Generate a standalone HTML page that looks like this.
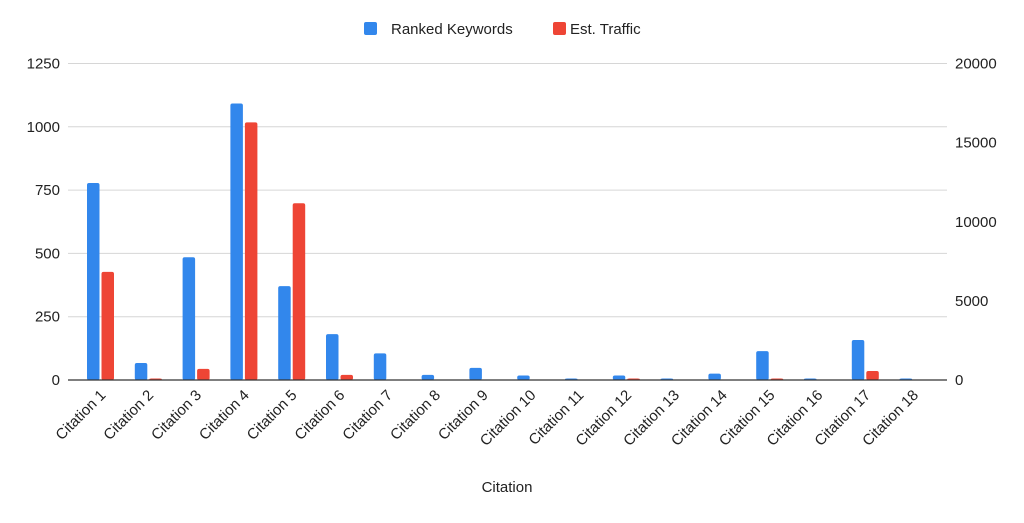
<!DOCTYPE html>
<html><head><meta charset="utf-8"><style>
body{margin:0;background:#fff;font-family:"Liberation Sans",Arial,sans-serif}
svg text{font-family:"Liberation Sans",Arial,sans-serif;fill:#222}
</style></head><body>
<svg id="chart" width="1024" height="518" viewBox="0 0 1024 518" xmlns="http://www.w3.org/2000/svg">
<g>
<rect x="364" y="22" width="13" height="13" rx="2" fill="#3287ec"/>
<text x="391" y="34" font-size="15">Ranked Keywords</text>
<rect x="553" y="22" width="13" height="13" rx="2" fill="#ee4535"/>
<text x="570" y="34" font-size="15">Est. Traffic</text>
</g>
<g id="grid"></g><g id="bars"></g><g id="labels"></g>
<line x1="68" y1="380" x2="947" y2="380" stroke="#333" stroke-width="1.3"/>
<text x="507" y="492" font-size="15" text-anchor="middle">Citation</text>
</svg>
<script>
const categories=["Citation 1","Citation 2","Citation 3","Citation 4","Citation 5","Citation 6","Citation 7","Citation 8","Citation 9","Citation 10","Citation 11","Citation 12","Citation 13","Citation 14","Citation 15","Citation 16","Citation 17","Citation 18"];
const rankedKeywords=[778,67,485,1092,371,181,105,20,48,18,3,18,2,25,114,2,158,2];
const estTraffic=[6830,30,700,16280,11170,320,0,0,0,0,0,30,0,0,30,0,570,0];
const leftTicks=[0,250,500,750,1000,1250];
const rightTicks=[0,5000,10000,15000,20000];
const NS="http://www.w3.org/2000/svg";
const y0=380,yTop=63.5,plotL=76.6,step=47.8,barW=12.5;
const yL=v=>y0-v/1250*(y0-yTop);
const yR=v=>y0-v/20000*(y0-yTop);
const xC=i=>plotL+step*(i+0.5);
function mk(tag,attrs,parent){const e=document.createElementNS(NS,tag);for(const k in attrs)e.setAttribute(k,attrs[k]);document.getElementById(parent).appendChild(e);return e;}
leftTicks.forEach(t=>{
 if(t>0){const g=mk('line',{x1:68,x2:947,y1:yL(t),y2:yL(t),stroke:'#d6d6d6','stroke-width':1},'grid');
 
 }
 const l=mk('text',{x:60,y:yL(t)+5,'font-size':15,'text-anchor':'end'},'labels');l.textContent=t;
 
 
});
rightTicks.forEach(t=>{
 const l=mk('text',{x:955,y:yR(t)+5,'font-size':15},'labels');l.textContent=t;
 
 
});
categories.forEach((c,i)=>{
 const cx=xC(i);
 const hb=Math.max(y0-yL(rankedKeywords[i]),1.5);
 const b=mk('rect',{x:cx-barW-1,y:y0-hb,width:barW,height:hb,rx:2,fill:'#3287ec'},'bars');
 
 
 const hr=Math.max(y0-yR(estTraffic[i]),estTraffic[i]>0?1.5:0);
 const r=mk('rect',{x:cx+1,y:y0-hr,width:barW,height:hr,rx:2,fill:'#ee4535'},'bars');
 
 
 const t=mk('text',{x:cx+6,y:396,'font-size':15,'text-anchor':'end',transform:`rotate(-45 ${cx+6} 396)`},'labels');t.textContent=c;
 
 
});
</script>
</body></html>
